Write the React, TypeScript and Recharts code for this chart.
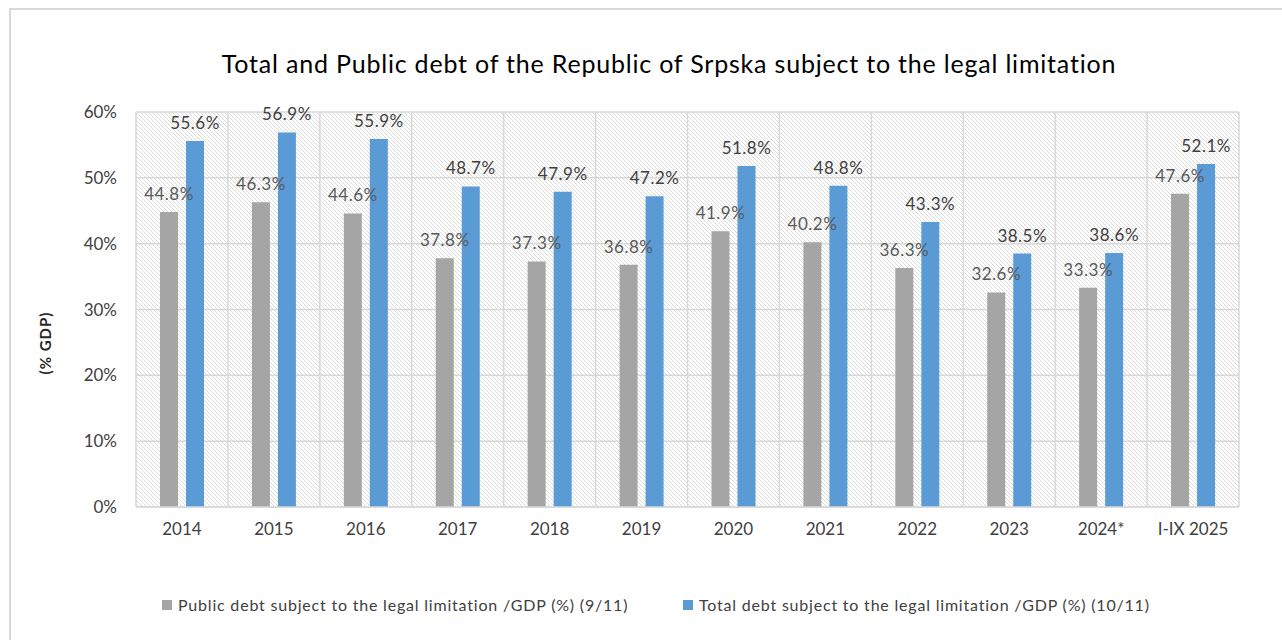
import React from 'react';
import { BarChart, Bar, XAxis, YAxis, CartesianGrid, LabelList } from 'recharts';

const categories = ['2014', '2015', '2016', '2017', '2018', '2019', '2020', '2021', '2022', '2023', '2024*', 'I-IX 2025'];
const publicDebt = [44.8, 46.3, 44.6, 37.8, 37.3, 36.8, 41.9, 40.2, 36.3, 32.6, 33.3, 47.6];
const totalDebt = [55.6, 56.9, 55.9, 48.7, 47.9, 47.2, 51.8, 48.8, 43.3, 38.5, 38.6, 52.1];
const yTicks = [0, 10, 20, 30, 40, 50, 60];

const title = 'Total and Public debt of the Republic of Srpska subject to the legal limitation';
const publicName = 'Public debt subject to the legal limitation /GDP (%) (9/11)';
const totalName = 'Total debt subject to the legal limitation /GDP (%) (10/11)';

const data = categories.map((c, i) => ({ name: c, pub: publicDebt[i], tot: totalDebt[i] }));

const FONT = 'Lato, "Open Sans", sans-serif';
const GRAY = '#A5A5A5';
const BLUE = '#5B9BD5';
const GRID = '#D9D9D9';

const fmt = (v: any) => `${Number(v).toFixed(1)}%`;

export default function App() {
  return (
    <div style={{ position: 'relative', width: 1282, height: 640, overflow: 'hidden', fontFamily: FONT, background: '#fff' }}>
      <style>{`body{margin:0}`}</style>
      <svg width={0} height={0} style={{ position: 'absolute' }}>
        <defs>
          <pattern id="hatch" patternUnits="userSpaceOnUse" width={4} height={4}>
            <rect x={0} y={0} width={4} height={4} fill="#ffffff" />
            <path d="M-1,-1 L5,5 M-1,3 L1,5 M3,-1 L5,1" stroke="#DCDCDC" strokeWidth={1} />
          </pattern>
        </defs>
      </svg>
      <div style={{ position: 'absolute', left: 9, top: 8, width: 1280, height: 640, borderTop: `2px solid ${GRID}`, borderLeft: `2px solid ${GRID}` }} />
      <div style={{ position: 'absolute', left: 0, width: 1338, top: 48, textAlign: 'center', fontSize: 25, letterSpacing: 0.8, color: '#000', lineHeight: '30px', whiteSpace: 'nowrap' }}>
        {title}
      </div>
      <div style={{ position: 'absolute', left: 0, top: 0 }}>
        <BarChart
          width={1282}
          height={640}
          data={data}
          margin={{ top: 112, right: 43, bottom: 103, left: 76 }}
          barSize={18}
          barGap={8}
        >
          <CartesianGrid
            stroke={GRID}
            strokeWidth={1.5}
            fill="url(#hatch)"
            fillOpacity={1}
            verticalCoordinatesGenerator={(props: any) => {
              const o = props.offset;
              const arr: number[] = [];
              for (let i = 0; i <= categories.length; i++) arr.push(o.left + (i * o.width) / categories.length);
              return arr;
            }}
          />
          <XAxis
            dataKey="name"
            tickLine={false}
            axisLine={{ stroke: GRID, strokeWidth: 1.5 }}
            tickMargin={10}
            height={30}
            tick={{ fill: '#404040', fontSize: 17, fontFamily: FONT }}
            interval={0}
          />
          <YAxis
            domain={[0, 60]}
            ticks={yTicks}
            tickFormatter={(v: any) => `${v}%`}
            axisLine={false}
            tickLine={false}
            tickMargin={13}
            width={60}
            tick={{ fill: '#404040', fontSize: 17, fontFamily: FONT }}
            label={{
              content: () => (
                <text
                  x={45}
                  y={343}
                  transform="rotate(-90 45 343)"
                  textAnchor="middle"
                  dominantBaseline="central"
                  fontSize={15}
                  letterSpacing={1}
                  fontWeight="bold"
                  fill="#262626"
                  fontFamily={FONT}
                >
                  (% GDP)
                </text>
              ),
            }}
          />
          <Bar dataKey="pub" name={publicName} fill={GRAY} isAnimationActive={false}>
            <LabelList dataKey="pub" position="top" offset={12} formatter={fmt} fill="#595959" fontSize={17} letterSpacing={0.5} fontFamily={FONT} />
          </Bar>
          <Bar dataKey="tot" name={totalName} fill={BLUE} isAnimationActive={false}>
            <LabelList dataKey="tot" position="top" offset={12} formatter={fmt} fill="#404040" fontSize={17} letterSpacing={0.5} fontFamily={FONT} />
          </Bar>
        </BarChart>
      </div>
      <div style={{ position: 'absolute', top: 595, left: 162, display: 'flex', alignItems: 'center', fontSize: 16, letterSpacing: 0.8, color: '#404040', whiteSpace: 'nowrap' }}>
        <span style={{ display: 'inline-block', width: 10, height: 10, background: GRAY, marginRight: 6 }} />
        <span>{publicName}</span>
      </div>
      <div style={{ position: 'absolute', top: 595, left: 683, display: 'flex', alignItems: 'center', fontSize: 16, letterSpacing: 0.8, color: '#404040', whiteSpace: 'nowrap' }}>
        <span style={{ display: 'inline-block', width: 10, height: 10, background: BLUE, marginRight: 6 }} />
        <span>{totalName}</span>
      </div>
    </div>
  );
}
